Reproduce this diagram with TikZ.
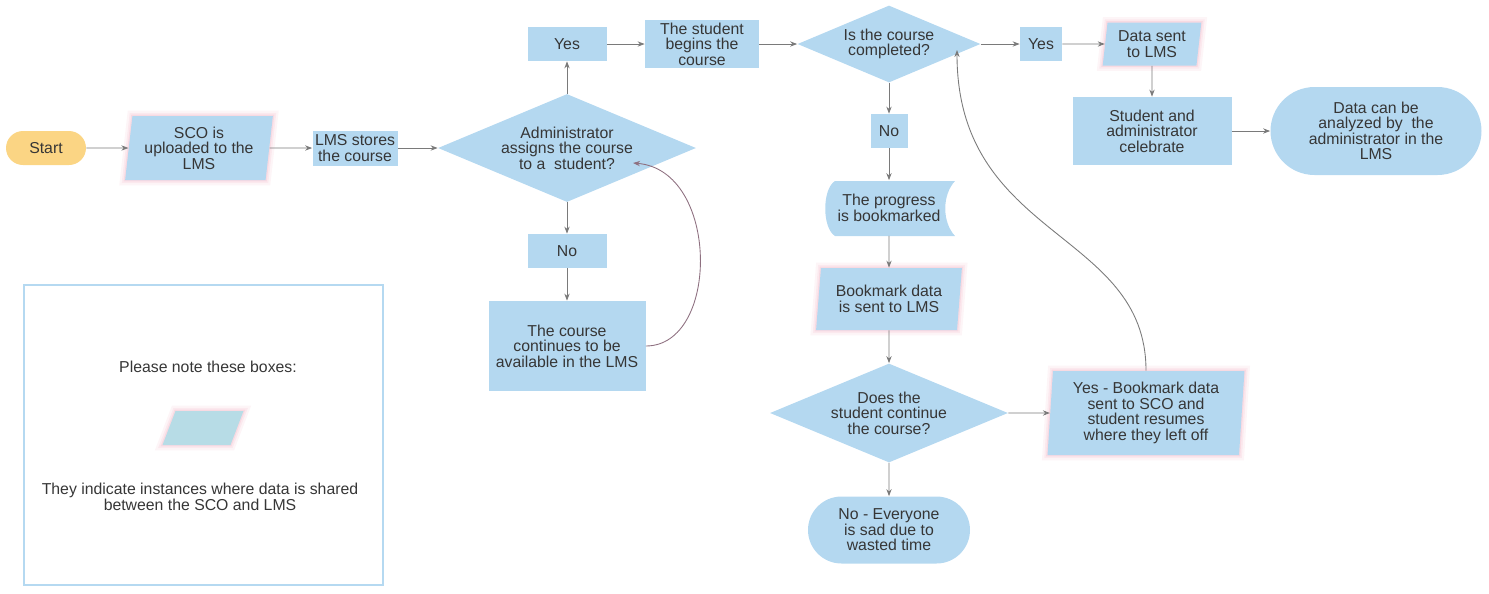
\documentclass[tikz,border=0pt]{standalone}
\usepackage{fontspec}
\setmainfont{Liberation Sans}
\usetikzlibrary{shapes.geometric,shapes.misc,arrows.meta}
\definecolor{boxblue}{HTML}{B4D8F0}
\definecolor{startorange}{HTML}{FBD584}
\definecolor{swatchblue}{HTML}{B7DCE6}
\definecolor{frameblue}{HTML}{B5D9F1}
\definecolor{inkgray}{HTML}{363636}
\definecolor{linegray}{HTML}{7A7A7A}
\definecolor{loopmauve}{HTML}{8E7080}
\definecolor{glowpink}{HTML}{F2B8C8}

\begin{document}
\begin{tikzpicture}[
  x = 0.02cm, y = -0.02cm,
  boxwh/.style 2 args = {
    minimum width = #1*0.02cm,
    minimum height = #2*0.02cm
  },
  every node/.style = {
    text = inkgray,
    align = center,
    inner sep = 0pt,
    font = \fontsize{9}{8.8}\selectfont
  },
  plain/.style = {
    rectangle,
    fill = boxblue
  },
  decision/.style = {
    diamond,
    shape aspect = 2.4,
    fill = boxblue
  },
  terminal/.style = {
    rounded rectangle,
    fill = boxblue
  },
  glow/.style = {
    preaction = {draw = glowpink, line width = 6pt, draw opacity = 0.14},
    preaction = {draw = glowpink, line width = 3.5pt, draw opacity = 0.2},
    preaction = {draw = glowpink, line width = 1.5pt, draw opacity = 0.3}
  },
  iobox/.style = {
    trapezium,
    trapezium stretches = true,
    trapezium left angle = 82,
    trapezium right angle = 98,
    fill = boxblue,
    glow
  },
  arr/.style = {
    draw = linegray,
    line width = 0.5pt,
    -{Stealth[length = 4pt, width = 3pt]}
  }
]
  \useasboundingbox (0, 0) rectangle (1489, 593);

  \node[terminal, fill = startorange, boxwh = {80}{34}] (start) at (46, 148) {Start};
  \node[iobox, boxwh = {148}{64}] (sco) at (199, 148) {SCO is\\uploaded to the\\LMS};
  \node[plain, boxwh = {85}{35}] (stores) at (355, 148) {LMS stores\\the course};
  \node[decision, boxwh = {258}{108}] (assign) at (567, 148) {Administrator\\assigns the course\\to a~ student?};

  \node[plain, boxwh = {79}{34}] (yes1) at (567, 44) {Yes};
  \node[plain, boxwh = {114}{48}] (begin) at (702, 44) {The student\\begins the\\course};
  \node[decision, boxwh = {183}{77}] (done) at (889, 44) {Is the course\\completed?};
  \node[plain, boxwh = {42}{34}] (yes2) at (1041, 44) {Yes};
  \node[iobox, boxwh = {99}{43}] (sent) at (1152, 44) {Data sent\\to LMS};
  \node[plain, boxwh = {159}{68}] (party) at (1152, 131) {Student and\\administrator\\celebrate};
  \node[terminal, boxwh = {211}{88}] (analyze) at (1376, 131) {Data can be\\analyzed by~ the\\administrator in the\\LMS};

  \node[plain, boxwh = {37}{34}] (no2) at (889, 131) {No};
  \fill[boxblue] (835, 181) -- (955, 181) .. controls (942, 195) and (942, 222) .. (955, 236)
    -- (835, 236) .. controls (822, 228) and (822, 189) .. (835, 181) -- cycle;
  \node[boxwh = {130}{55}] (mark) at (889, 208) {The progress\\is bookmarked};
  \node[iobox, boxwh = {146}{62}] (marksent) at (889, 299) {Bookmark data\\is sent to LMS};
  \node[decision, boxwh = {238}{99}] (cont) at (889, 413) {Does the\\student continue\\the course?};
  \node[terminal, boxwh = {162}{67}] (sad) at (889, 530) {No - Everyone\\is sad due to\\wasted time};
  \node[iobox, trapezium left angle = 86, trapezium right angle = 94, boxwh = {198}{84}] (resume) at (1146, 413) {Yes - Bookmark data\\sent to SCO and\\student resumes\\where they left off};

  \node[plain, boxwh = {79}{34}] (no1) at (567, 251) {No};
  \node[plain, boxwh = {157}{90}] (avail) at (567, 346) {The course\\continues to be\\available in the LMS};

  \draw[draw = frameblue, line width = 1.2pt] (24, 285) rectangle (383, 585);
  \node (note) at (208, 367) {Please note these boxes:};
  \node[iobox, trapezium left angle = 74, trapezium right angle = 106, fill = swatchblue, boxwh = {81}{34}] (swatch) at (203, 428) {\phantom{M}};
  \node (meaning) at (200, 497) {They indicate instances where data is shared\\between the SCO and LMS};

  \draw[arr] (start) -- (sco);
  \draw[arr] (sco) -- (stores);
  \draw[arr] (stores) -- (assign);
  \draw[arr] (assign) -- (yes1);
  \draw[arr] (yes1) -- (begin);
  \draw[arr] (begin) -- (done);
  \draw[arr] (done) -- (yes2);
  \draw[arr] (yes2) -- (sent);
  \draw[arr] (sent) -- (party);
  \draw[arr] (party) -- (analyze);
  \draw[arr] (done) -- (no2);
  \draw[arr] (no2) -- (mark);
  \draw[arr] (mark) -- (marksent);
  \draw[arr] (marksent) -- (cont);
  \draw[arr] (cont) -- (sad);
  \draw[arr] (cont) -- (resume);
  \draw[arr] (assign) -- (no1);
  \draw[arr] (no1) -- (avail);

  \coordinate (assignin) at (633, 163);
  \coordinate (donein) at (957, 50);
  \draw[arr, draw = loopmauve] (avail.east) .. controls (720, 346) and (720, 170) .. (assignin);
  \draw[arr] (resume.north) .. controls (1146, 230) and (957, 240) .. (donein);
\end{tikzpicture}
\end{document}
